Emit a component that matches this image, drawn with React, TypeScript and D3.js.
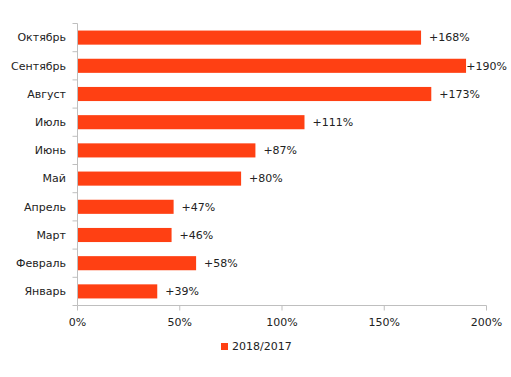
import React from "react";
import * as d3 from "d3";

const categories = ["Октябрь", "Сентябрь", "Август", "Июль", "Июнь", "Май", "Апрель", "Март", "Февраль", "Январь"];
const values = [168, 190, 173, 111, 87, 80, 47, 46, 58, 39];
const xTicks = [0, 50, 100, 150, 200];
const seriesName = "2018/2017";

const W = 511, H = 377;
const left = 77.5, right = 486.5, top = 23.5, bottom = 305.5;
const barColor = "#FF4013";
const axisColor = "#BFBFBF";
const font = "'DejaVu Sans', sans-serif";
const fs = 11;

export default function App() {
  const x = d3.scaleLinear().domain([0, 200]).range([left, right]);
  const y = d3.scaleBand().domain(categories).range([top, bottom]).paddingInner(0.5).paddingOuter(0.25);
  const band = d3.scaleBand().domain(categories).range([top, bottom]);
  return (
    <svg width={W} height={H} style={{ position: "absolute", left: 0, top: 0 }} fontFamily={font}>
      <rect width={W} height={H} fill="#fff" />
      {categories.map((c, i) => {
        const v = values[i];
        const xe = x(v);
        const label = `+${v}%`;
        const lw = label.length * 7;
        const clamp = xe + 8 + lw > W - 4;
        return (
          <g key={c}>
            <rect x={left + 0.5} y={y(c)!} width={xe - left - 0.5} height={y.bandwidth()} fill={barColor} />
            <text x={clamp ? W - 4 : xe + 8} textAnchor={clamp ? "end" : "start"} y={y(c)! + y.bandwidth() / 2} dy="0.35em" fontSize={fs} fill="#222">{label}</text>
            <text x={66} y={band(c)! + band.bandwidth() / 2} dy="0.35em" textAnchor="end" fontSize={fs} fill="#222">{c}</text>
          </g>
        );
      })}
      <line x1={left} x2={left} y1={top} y2={bottom} stroke={axisColor} />
      {d3.range(categories.length + 1).map(i => {
        const yy = top + i * band.step();
        return <line key={i} x1={left - 5} x2={left} y1={yy} y2={yy} stroke={axisColor} />;
      })}
      <line x1={left} x2={right} y1={bottom} y2={bottom} stroke={axisColor} />
      {xTicks.map(t => (
        <g key={t}>
          <line x1={x(t)} x2={x(t)} y1={bottom} y2={bottom + 5} stroke={axisColor} />
          <text x={x(t)} y={322} dy="0.35em" textAnchor="middle" fontSize={fs} fill="#222">{t}%</text>
        </g>
      ))}
      <rect x={221} y={343} width={7} height={7} fill={barColor} />
      <text x={232} y={346.5} dy="0.35em" fontSize={fs} fill="#222">{seriesName}</text>
    </svg>
  );
}
